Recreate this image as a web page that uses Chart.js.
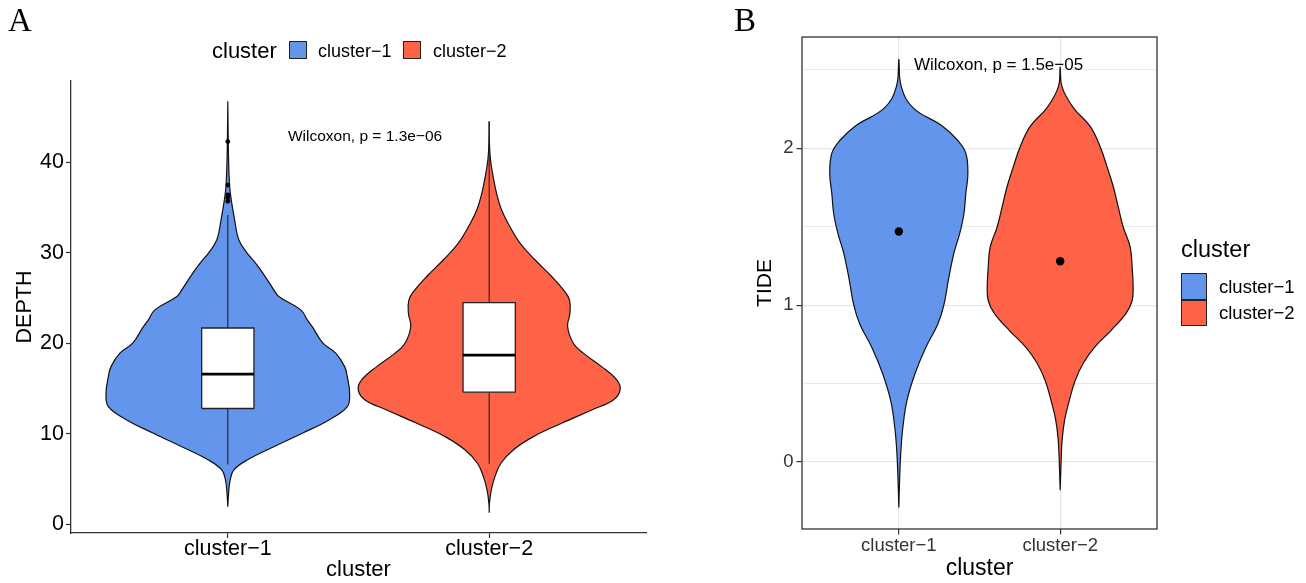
<!DOCTYPE html>
<html>
<head>
<meta charset="utf-8">
<script src="https://cdn.jsdelivr.net/npm/chart.js@4.4.0/dist/chart.umd.min.js"></script>
<style>
  html, body { margin: 0; padding: 0; background: #fff; }
  body { width: 1306px; height: 583px; position: relative; overflow: hidden; font-family: 'Liberation Sans', Arial, sans-serif; }
  canvas { position: absolute; top: 0; }
  #chartA { left: 0; }
  #chartB { left: 720px; }
  .lbl { position: absolute; line-height: 1; transform: translateY(-50%); white-space: nowrap; color: #000; }
  .key { position: absolute; box-sizing: border-box; border: 1.2px solid #222; }
  .panel { position: absolute; font-family: 'Liberation Serif', 'Times New Roman', serif; font-size: 33px; line-height: 1; color: #000; }
</style>
</head>
<body>
<canvas id="chartA" width="660" height="583"></canvas>
<canvas id="chartB" width="586" height="583"></canvas>

<div class="panel" style="left:8px;top:4px">A</div>
<div class="panel" style="left:734px;top:4px">B</div>

<!-- legend A -->
<div class="lbl" style="left:212px;top:50.7px;font-size:22px">cluster</div>
<div class="key" style="left:289px;top:41px;width:18px;height:17.5px;background:#6495ED"></div>
<div class="lbl" style="left:318px;top:50.5px;font-size:18px">cluster−1</div>
<div class="key" style="left:403px;top:41px;width:18px;height:17.5px;background:#FF6347"></div>
<div class="lbl" style="left:433px;top:50.5px;font-size:18px">cluster−2</div>

<!-- legend B -->
<div class="lbl" style="left:1181px;top:250.2px;font-size:23.5px">cluster</div>
<div class="key" style="left:1181px;top:273px;width:26px;height:26.5px;background:#6495ED"></div>
<div class="key" style="left:1181px;top:299.5px;width:26px;height:26.5px;background:#FF6347"></div>
<div class="lbl" style="left:1219px;top:286.9px;font-size:18.5px">cluster−1</div>
<div class="lbl" style="left:1219px;top:312.6px;font-size:18.5px">cluster−2</div>

<script>
// ---- DATA ----
const categories = ['cluster−1', 'cluster−2'];
const clusterColors = ['#6495ED', '#FF6347'];

// panel A: DEPTH violins (value grid bottom->top, half width in category units)
const depthGrid1 = [1.95, 3.43, 4.90, 6.01, 7.11, 8.58, 10.07, 11.54, 13.0, 14.49, 16.33, 17.43, 18.92, 20.02, 21.86, 22.6, 23.7, 25.18, 25.92, 27.77, 28.87, 29.98, 31.45, 33.66, 35.88, 37.35, 40.3, 43.98, 46.75];
const depthWidth1 = [0, 0.003, 0.009, 0.023, 0.074, 0.176, 0.285, 0.387, 0.457, 0.466, 0.457, 0.447, 0.413, 0.364, 0.323, 0.304, 0.279, 0.195, 0.176, 0.134, 0.106, 0.074, 0.042, 0.026, 0.013, 0.007, 0.003, 0.001, 0];
const depthGrid2 = [1.28, 2.32, 3.79, 5.27, 6.75, 8.22, 9.69, 11.17, 12.64, 13.75, 14.86, 15.96, 17.43, 18.92, 20.02, 21.86, 23.34, 24.81, 25.92, 27.39, 29.24, 31.08, 32.92, 34.77, 36.61, 38.45, 40.3, 42.15, 44.54];
const depthWidth2 = [0, 0.001, 0.008, 0.022, 0.045, 0.092, 0.169, 0.277, 0.392, 0.475, 0.501, 0.488, 0.430, 0.360, 0.322, 0.300, 0.309, 0.307, 0.284, 0.239, 0.175, 0.118, 0.079, 0.047, 0.028, 0.015, 0.005, 0.001, 0];

// panel A: box plot stats
const depthQ1 = [12.8, 14.6];
const depthMedian = [16.6, 18.7];
const depthQ3 = [21.7, 24.5];
const depthWhiskerLow = [6.6, 6.7];
const depthWhiskerHigh = [34.2, 44.5];
const depthOutliers1 = [35.7, 36.1, 36.4, 37.5, 42.3];
const depthTicks = [0, 10, 20, 30, 40];

// panel B: TIDE violins
const tideGrid1 = [-0.29, -0.11, 0.06, 0.22, 0.39, 0.56, 0.73, 0.88, 1.0, 1.16, 1.33, 1.46, 1.58, 1.71, 1.84, 1.97, 2.05, 2.14, 2.26, 2.39, 2.57];
const tideWidth1 = [0, 0.005, 0.012, 0.025, 0.050, 0.099, 0.167, 0.242, 0.279, 0.307, 0.341, 0.378, 0.403, 0.415, 0.428, 0.415, 0.366, 0.273, 0.087, 0.016, 0];
const tideGrid2 = [-0.18, 0.01, 0.14, 0.27, 0.39, 0.52, 0.63, 0.73, 0.84, 0.95, 1.03, 1.12, 1.24, 1.37, 1.50, 1.63, 1.76, 1.88, 2.01, 2.14, 2.26, 2.39, 2.52];
const tideWidth2 = [0, 0.006, 0.012, 0.028, 0.056, 0.093, 0.143, 0.211, 0.316, 0.409, 0.446, 0.452, 0.446, 0.434, 0.390, 0.359, 0.328, 0.291, 0.248, 0.186, 0.081, 0.012, 0];
const tideMean = [1.47, 1.28];
const tideMajorTicks = [0, 1, 2];
const tideMinorTicks = [0.5, 1.5, 2.5];

const BOX_HALF = 0.1;

Chart.defaults.font.family = "'Liberation Sans', Arial, sans-serif";
Chart.defaults.color = '#000';

// violin outline: up the right side, down the left side
function outline(center, grid, width){
    const right = grid.map((y, i) => ({x: center + width[i], y: y}));
    const left = grid.map((y, i) => ({x: center - width[i], y: y})).reverse();
    return right.concat(left);
}

function violin(center, grid, width, color){
    return {
        type: 'line',
        data: outline(center, grid, width),
        backgroundColor: color,
        borderColor: '#111',
        borderWidth: 1.2,
        fill: 'shape',
        pointRadius: 0,
        tension: 0.4,
        order: 5
    };
}

// p-value label placed in data coords
const pLabel = {
    id: 'pLabel',
    afterDatasetsDraw(chart, args, opts){
        const {ctx, scales: {x, y}} = chart;
        ctx.save();
        ctx.font = opts.font;
        ctx.fillStyle = '#000';
        ctx.textBaseline = 'middle';
        ctx.textAlign = 'left';
        ctx.fillText(opts.text, x.getPixelForValue(opts.x), y.getPixelForValue(opts.y));
        ctx.restore();
    }
};

// full panel border (theme_bw)
const panelBorder = {
    id: 'panelBorder',
    afterDraw(chart, args, opts){
        if(!opts.draw) return;
        const {ctx, chartArea: a} = chart;
        ctx.save();
        ctx.strokeStyle = '#333';
        ctx.lineWidth = 1.3;
        ctx.strokeRect(a.left, a.top, a.right - a.left, a.bottom - a.top);
        ctx.restore();
    }
};

// ---- PANEL A ----
const datasetsA = [
    violin(1, depthGrid1, depthWidth1, clusterColors[0]),
    violin(2, depthGrid2, depthWidth2, clusterColors[1])
];

categories.forEach((c, i) => {
    const cx = i + 1;
    // whisker
    datasetsA.push({
        type: 'line',
        data: [{x: cx, y: depthWhiskerLow[i]}, {x: cx, y: depthWhiskerHigh[i]}],
        borderColor: '#222',
        borderWidth: 1.1,
        pointRadius: 0,
        fill: false,
        order: 4
    });
    // box
    datasetsA.push({
        type: 'line',
        data: [
            {x: cx - BOX_HALF, y: depthQ1[i]}, {x: cx + BOX_HALF, y: depthQ1[i]},
            {x: cx + BOX_HALF, y: depthQ3[i]}, {x: cx - BOX_HALF, y: depthQ3[i]},
            {x: cx - BOX_HALF, y: depthQ1[i]}
        ],
        backgroundColor: '#fff',
        borderColor: '#222',
        borderWidth: 1.3,
        fill: 'shape',
        pointRadius: 0,
        tension: 0,
        order: 3
    });
    // median
    datasetsA.push({
        type: 'line',
        data: [{x: cx - BOX_HALF, y: depthMedian[i]}, {x: cx + BOX_HALF, y: depthMedian[i]}],
        borderColor: '#000',
        borderWidth: 2.6,
        pointRadius: 0,
        fill: false,
        order: 2
    });
});

datasetsA.push({
    type: 'line',
    data: depthOutliers1.map(v => ({x: 1, y: v})),
    showLine: false,
    pointRadius: 2.4,
    pointBackgroundColor: '#000',
    pointBorderWidth: 0,
    order: 1
});

new Chart(document.getElementById('chartA'), {
    type: 'line',
    data: {datasets: datasetsA},
    plugins: [pLabel, panelBorder],
    options: {
        responsive: false,
        animation: false,
        events: [],
        layout: {padding: {left: 0, right: 14, top: 81, bottom: 0}},
        plugins: {
            legend: {display: false},
            tooltip: {enabled: false},
            pLabel: {text: 'Wilcoxon, p = 1.3e−06', x: 1.23, y: 42.84, font: "15.5px 'Liberation Sans', Arial, sans-serif"},
            panelBorder: {draw: false}
        },
        scales: {
            x: {
                type: 'linear',
                min: 0.4,
                max: 2.6,
                afterBuildTicks: s => { s.ticks = categories.map((c, i) => ({value: i + 1})); },
                afterFit: s => { s.height = 50; },
                ticks: {callback: (v, i) => categories[i], font: {size: 21.5, lineHeight: 1}, color: '#000', padding: 0, autoSkip: false, maxRotation: 0},
                grid: {drawOnChartArea: false, drawTicks: true, tickLength: 5, tickColor: '#333', tickWidth: 1.2},
                border: {display: true, color: '#333', width: 1.3},
                title: {display: true, text: 'cluster', font: {size: 22}, color: '#000', padding: {top: 0, bottom: 0}}
            },
            y: {
                type: 'linear',
                min: -0.96,
                max: 49,
                afterBuildTicks: s => { s.ticks = depthTicks.map(v => ({value: v})); },
                afterFit: s => { s.width = 71; },
                ticks: {font: {size: 21.5}, color: '#000', padding: 2},
                grid: {drawOnChartArea: false, drawTicks: true, tickLength: 5, tickColor: '#333', tickWidth: 1.2},
                border: {display: true, color: '#333', width: 1.3},
                title: {display: true, text: 'DEPTH', font: {size: 21.5}, color: '#000', padding: {top: 12, bottom: 0}}
            }
        }
    }
});

// ---- PANEL B ----
const datasetsB = [
    violin(1, tideGrid1, tideWidth1, clusterColors[0]),
    violin(2, tideGrid2, tideWidth2, clusterColors[1]),
    {
        type: 'line',
        data: tideMean.map((v, i) => ({x: i + 1, y: v})),
        showLine: false,
        pointRadius: 4.2,
        pointBackgroundColor: '#000',
        pointBorderWidth: 0,
        order: 1
    }
];

const tideAllTicks = tideMajorTicks.concat(tideMinorTicks).sort((a, b) => a - b);

new Chart(document.getElementById('chartB'), {
    type: 'line',
    data: {datasets: datasetsB},
    plugins: [pLabel, panelBorder],
    options: {
        responsive: false,
        animation: false,
        events: [],
        layout: {padding: {left: 0, right: 149, top: 37, bottom: 0}},
        plugins: {
            legend: {display: false},
            tooltip: {enabled: false},
            pLabel: {text: 'Wilcoxon, p = 1.5e−05', x: 1.094, y: 2.529, font: "17px 'Liberation Sans', Arial, sans-serif"},
            panelBorder: {draw: true}
        },
        scales: {
            x: {
                type: 'linear',
                min: 0.4,
                max: 2.6,
                afterBuildTicks: s => { s.ticks = categories.map((c, i) => ({value: i + 1})); },
                afterFit: s => { s.height = 54; },
                ticks: {callback: (v, i) => categories[i], font: {size: 18.5, lineHeight: 1}, color: '#333', padding: 2, autoSkip: false, maxRotation: 0},
                grid: {drawOnChartArea: true, color: '#E6E6E6', lineWidth: 1.2, drawTicks: true, tickLength: 5.5, tickColor: '#333', tickWidth: 1.2},
                border: {display: false},
                title: {display: true, text: 'cluster', font: {size: 23}, color: '#000', padding: {top: 0, bottom: 1}}
            },
            y: {
                type: 'linear',
                min: -0.427,
                max: 2.71,
                afterBuildTicks: s => { s.ticks = tideAllTicks.map(v => ({value: v})); },
                afterFit: s => { s.width = 82; },
                ticks: {callback: v => tideMajorTicks.includes(v) ? String(v) : '', font: {size: 18.5}, color: '#333', padding: 3, autoSkip: false},
                grid: {
                    drawOnChartArea: true,
                    color: '#E6E6E6',
                    lineWidth: c => (c.tick && tideMinorTicks.includes(c.tick.value)) ? 0.9 : 1.2,
                    drawTicks: true,
                    tickLength: 5.5,
                    tickColor: c => (c.tick && tideMinorTicks.includes(c.tick.value)) ? 'rgba(0,0,0,0)' : '#333',
                    tickWidth: 1.2
                },
                border: {display: false},
                title: {display: true, text: 'TIDE', font: {size: 21}, color: '#000', padding: {top: 33, bottom: 0}}
            }
        }
    }
});
</script>
</body>
</html>
